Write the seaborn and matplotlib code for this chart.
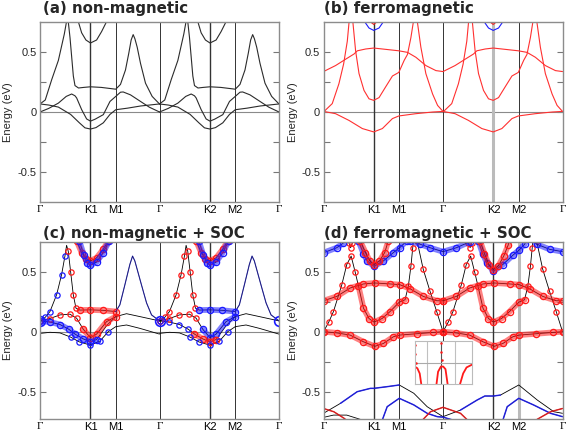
import matplotlib
matplotlib.use('Agg')
import matplotlib.pyplot as plt
import seaborn as sns

sns.set_theme(style='white')
plt.rcParams['font.family'] = ['Liberation Sans', 'DejaVu Sans']

# ---------------- path / axes data ----------------
K_POS = [0.0, 0.577, 0.866, 1.366, 1.943, 2.232, 2.732]
K_LABELS = ['Γ', 'K1', 'M1', 'Γ', 'K2', 'M2', 'Γ']
HALF = 1.366
Y_TICKS = [-0.5, 0.0, 0.5]
Y_TICK_LABELS = ['-0.5', '0', '0.5']
Y_MINOR = [-0.25, 0.25]
TITLES = ['(a) non-magnetic', '(b) ferromagnetic',
          '(c) non-magnetic + SOC', '(d) ferromagnetic + SOC']

# ---------------- (a) non-magnetic, half path Γ-K-M-Γ ----------------
A_STEEP_K = [0, 0.06, 0.134, 0.21, 0.278, 0.300, 0.312, 0.325, 0.343, 0.362, 0.381, 0.40, 0.44, 0.50, 0.577,
             0.70, 0.866, 0.92, 0.977, 1.015, 1.042, 1.065, 1.085, 1.111, 1.149, 1.206, 1.282, 1.366]
A_STEEP_E = [0.067, 0.10, 0.27, 0.43, 0.65, 0.74, 0.78, 0.74, 0.62, 0.46, 0.30, 0.22, 0.20, 0.205, 0.21,
             0.205, 0.19, 0.23, 0.35, 0.49, 0.60, 0.645, 0.61, 0.54, 0.405, 0.24, 0.13, 0.067]
A_POCKET_K = [0.42, 0.438, 0.476, 0.525, 0.577, 0.647, 0.704, 0.761, 0.78]
A_POCKET_E = [0.80, 0.753, 0.66, 0.60, 0.575, 0.60, 0.67, 0.753, 0.80]
A_B3_K = [0, 0.1, 0.21, 0.30, 0.362, 0.40, 0.419, 0.476, 0.533, 0.577, 0.63, 0.724, 0.80, 0.866, 0.92,
          0.951, 1.034, 1.149, 1.25, 1.366]
A_B3_E = [0.0, 0.03, 0.074, 0.13, 0.15, 0.135, 0.117, 0.02, -0.058, -0.076, -0.06, -0.022, 0.088, 0.13, 0.165,
          0.167, 0.143, 0.088, 0.04, 0.0]
A_B4_K = [0, 0.1, 0.21, 0.35, 0.45, 0.514, 0.577, 0.64, 0.724, 0.80, 0.866, 1.0, 1.15, 1.366]
A_B4_E = [0.067, 0.058, 0.041, -0.02, -0.09, -0.132, -0.142, -0.13, -0.09, -0.02, 0.019, 0.032, 0.05, 0.067]

# ---------------- (b) ferromagnetic, half path ----------------
B_B1_K = [0, 0.138, 0.291, 0.444, 0.574, 0.673, 0.788, 0.861, 1.056, 1.25, 1.366]
B_B1_E = [0.005, -0.014, -0.07, -0.138, -0.166, -0.138, -0.055, -0.033, -0.014, 0.0, 0.005]
B_B2_K = [0, 0.1, 0.176, 0.23, 0.272, 0.291, 0.30, 0.33, 0.337, 0.367, 0.406, 0.463, 0.52, 0.574, 0.635,
          0.711, 0.788, 0.861, 0.922, 0.960, 0.999, 1.025, 1.04, 1.05, 1.075, 1.113, 1.17, 1.247, 1.304, 1.366]
B_B2_E = [0.0, 0.07, 0.235, 0.40, 0.59, 0.74, 0.82, 0.82, 0.74, 0.51, 0.32, 0.18, 0.11, 0.097, 0.12,
          0.21, 0.30, 0.33, 0.43, 0.48, 0.62, 0.74, 0.82, 0.82, 0.74, 0.54, 0.32, 0.15, 0.055, 0.005]
B_B3_K = [0, 0.138, 0.253, 0.348, 0.387, 0.482, 0.574, 0.712, 0.861, 0.96, 1.056, 1.17, 1.285, 1.366]
B_B3_E = [0.337, 0.387, 0.44, 0.483, 0.51, 0.525, 0.533, 0.522, 0.51, 0.497, 0.456, 0.387, 0.345, 0.337]
B_BLUE_K = [0.463, 0.52, 0.574, 0.635, 0.692]
B_BLUE_E = [0.76, 0.70, 0.68, 0.70, 0.76]
B_RED_K = [0.52, 0.574, 0.627]
B_RED_E = [0.76, 0.73, 0.76]

# ---------------- (c) non-magnetic + SOC, half path ----------------
C_STEEP_K = [0, 0.06, 0.114, 0.19, 0.247, 0.285, 0.304, 0.323, 0.35, 0.38, 0.411, 0.457, 0.577, 0.72,
             0.866, 0.913, 0.97, 1.027, 1.058, 1.084, 1.16, 1.218, 1.275, 1.366]
C_STEEP_E = [0.09, 0.12, 0.168, 0.308, 0.476, 0.63, 0.72, 0.67, 0.50, 0.31, 0.196, 0.18, 0.182, 0.178,
             0.168, 0.224, 0.39, 0.56, 0.63, 0.59, 0.39, 0.24, 0.14, 0.09]
C_POCKR_K = [0.40, 0.419, 0.476, 0.525, 0.577, 0.647, 0.723, 0.78, 0.80]
C_POCKR_E = [0.80, 0.756, 0.66, 0.61, 0.59, 0.616, 0.686, 0.756, 0.80]
C_POCKB_K = [0.43, 0.45, 0.50, 0.54, 0.577, 0.647, 0.723, 0.79, 0.81]
C_POCKB_E = [0.80, 0.756, 0.64, 0.575, 0.555, 0.58, 0.66, 0.756, 0.80]
C_B3_K = [0, 0.114, 0.228, 0.342, 0.419, 0.495, 0.577, 0.647, 0.761, 0.866, 0.989, 1.141, 1.366]
C_B3_E = [0.09, 0.11, 0.14, 0.146, 0.112, 0.02, -0.05, -0.02, 0.084, 0.126, 0.15, 0.126, 0.09]
C_B3B_K = [0, 0.114, 0.228, 0.33, 0.40, 0.495, 0.577, 0.647, 0.761, 0.866]
C_B3B_E = [0.09, 0.08, 0.06, 0.02, -0.02, -0.06, -0.085, -0.065, 0.05, 0.126]
C_B4_K = [0, 0.114, 0.228, 0.35, 0.45, 0.577, 0.685, 0.78, 0.866, 0.989, 1.141, 1.366]
C_B4_E = [-0.014, -0.005, -0.01, -0.045, -0.085, -0.112, -0.078, 0.0, 0.042, 0.056, 0.028, -0.02]

# ---------------- (d) ferromagnetic + SOC ----------------
D_B1_K = [0, 0.15, 0.304, 0.457, 0.586, 0.685, 0.799, 0.871, 1.065, 1.256, 1.366]
D_B1_E = [0.0, -0.01, -0.028, -0.084, -0.122, -0.098, -0.042, -0.028, -0.017, -0.006, 0.0]
D_B2_K = [0, 0.152, 0.304, 0.457, 0.586, 0.761, 0.871, 0.989, 1.141, 1.294, 1.366]
D_B2_E = [0.258, 0.294, 0.364, 0.398, 0.406, 0.398, 0.392, 0.358, 0.294, 0.258, 0.258]
D_B4_K = [0, 0.06, 0.114, 0.209, 0.266, 0.316, 0.361, 0.40, 0.457, 0.52, 0.577, 0.67, 0.761, 0.866, 0.932,
          0.97, 1.0, 1.02, 1.035, 1.045, 1.07, 1.14, 1.218, 1.294, 1.366]
D_B4_E = [0.0, 0.08, 0.168, 0.39, 0.56, 0.63, 0.50, 0.38, 0.196, 0.11, 0.08, 0.11, 0.168, 0.246, 0.266,
          0.38, 0.55, 0.70, 0.82, 0.82, 0.756, 0.52, 0.336, 0.168, 0.0]
D_V_K = [0.27, 0.29, 0.31, 0.33, 0.35]
D_V_E = [0.80, 0.74, 0.70, 0.74, 0.80]
D_BTOP_K = [0, 0.152, 0.228, 0.28, 0.90, 0.989, 1.1, 1.218, 1.366, 1.52, 1.674, 1.75, 2.34, 2.435, 2.587, 2.732]
D_BTOP_E = [0.658, 0.70, 0.74, 0.82, 0.82, 0.756, 0.73, 0.70, 0.667, 0.70, 0.75, 0.82, 0.82, 0.73, 0.686, 0.667]
D_PB1_K = [0.38, 0.40, 0.457, 0.50, 0.577, 0.685, 0.80, 0.871, 0.951, 0.98]
D_PB1_E = [0.80, 0.756, 0.65, 0.59, 0.545, 0.59, 0.66, 0.70, 0.756, 0.80]
D_PR1_K = [0.40, 0.42, 0.48, 0.53, 0.577, 0.64, 0.70, 0.74, 0.76]
D_PR1_E = [0.80, 0.756, 0.66, 0.59, 0.56, 0.59, 0.66, 0.756, 0.80]
D_PB2_K = [1.75, 1.77, 1.82, 1.87, 1.943, 2.05, 2.169, 2.232, 2.30, 2.34]
D_PB2_E = [0.80, 0.756, 0.65, 0.57, 0.504, 0.56, 0.64, 0.678, 0.73, 0.80]
D_PR2_K = [1.77, 1.79, 1.84, 1.89, 1.943, 2.00, 2.06, 2.11, 2.14]
D_PR2_E = [0.80, 0.756, 0.65, 0.56, 0.518, 0.55, 0.63, 0.72, 0.80]
D_L1_K = [0, 0.194, 0.385, 0.537, 0.577, 0.728, 0.866, 1.032, 1.185, 1.366, 1.566, 1.757, 1.844, 1.943,
          2.023, 2.232, 2.443, 2.633, 2.732]
D_L1_E = [-0.68, -0.597, -0.50, -0.472, -0.472, -0.458, -0.444, -0.513, -0.625, -0.708, -0.653, -0.569,
          -0.536, -0.536, -0.528, -0.444, -0.569, -0.667, -0.68]
D_L2_K = [0.66, 0.728, 0.866, 1.032, 1.185, 1.30, 1.366, 1.45, 1.60, 2.04, 2.10, 2.232, 2.40, 2.595, 2.732]
D_L2_E = [-0.76, -0.625, -0.555, -0.61, -0.68, -0.708, -0.712, -0.73, -0.76, -0.76, -0.625, -0.555, -0.61,
          -0.68, -0.708]
D_L3_K = [0, 0.118, 0.232, 0.30, 1.10, 1.223, 1.366, 1.566, 1.68, 2.40, 2.443, 2.595, 2.732]
D_L3_E = [-0.64, -0.667, -0.72, -0.76, -0.76, -0.667, -0.63, -0.68, -0.76, -0.76, -0.73, -0.667, -0.64]
D_L4_K = [0, 0.114, 0.266, 0.44, 0.50]
D_L4_E = [-0.714, -0.695, -0.695, -0.735, -0.76]

# inset of (d)
INSET_VLINES = [0.224, 0.47, 0.706]
INSET_LEFT_X = [0.0, 0.047, 0.088, 0.118]
INSET_LEFT_Y = [0.41, 0.37, 0.25, -0.02]
INSET_HUMP_X = [0.38, 0.41, 0.46, 0.50, 0.54, 0.58]
INSET_HUMP_Y = [-0.02, 0.29, 0.41, 0.41, 0.35, -0.02]
INSET_RIGHT_X = [0.79, 0.85, 0.91, 1.0]
INSET_RIGHT_Y = [-0.02, 0.25, 0.39, 0.45]
INSET_T1_X = [0.005, 0.012, 0.02]
INSET_T1_Y = [0.9, 0.7, 0.5]
INSET_T2_X = [0.462, 0.47, 0.478]
INSET_T2_Y = [0.95, 0.75, 0.55]

RED = '#ff1a1a'
BLUE = '#1a1aff'


def shift(k, d):
    return [x + d for x in k]


def line(ax, k, e, color='black', lw=0.7, **kw):
    sns.lineplot(x=k, y=e, sort=False, estimator=None, color=color, lw=lw, ax=ax, legend=False, **kw)


def sel(k, e, lo, hi):
    pts = [(a, b) for a, b in zip(k, e) if lo - 1e-6 <= a <= hi + 1e-6]
    return [p[0] for p in pts], [p[1] for p in pts]


def mark(ax, k, e, lo, hi, color, kind):
    kk, ee = sel(k, e, lo, hi)
    if len(kk) == 0:
        return
    if kind == 'trail':
        line(ax, kk, ee, color=color, lw=4.2, alpha=0.55)
        line(ax, kk, ee, color=color, lw=0, marker='o', markersize=4.5,
             markerfacecolor='none', markeredgecolor=color, markeredgewidth=0.9)
    elif kind == 'dots':
        line(ax, kk, ee, color=color, lw=0, marker='o', markersize=3.8,
             markerfacecolor='none', markeredgecolor=color, markeredgewidth=0.9)
    elif kind == 'low':
        line(ax, kk, ee, color=color, lw=1.1, alpha=0.8)
    else:
        line(ax, kk, ee, color=color, lw=0.9, alpha=0.45)


fig = plt.figure(figsize=(5.67, 4.34), dpi=100)
W = 239 / 567
pos = [[40 / 567, 232 / 434, W, 180 / 434], [323.5 / 567, 232 / 434, W, 180 / 434],
       [40 / 567, 15 / 434, W, 177.3 / 434], [323.5 / 567, 15 / 434, W, 177.3 / 434]]
axes = [fig.add_axes(p) for p in pos]
ylims = [(-0.75, 0.75), (-0.75, 0.75), (-0.7275, 0.75), (-0.7275, 0.75)]
title_dx = [2.7, 0.2, 2.7, 0.2]
title_gap = [8.5, 8.5, 4.0, 4.0]
ylabel_x = [-0.115, -0.105, -0.115, -0.105]

for i, ax in enumerate(axes):
    ax.set_xlim(0, 2.732)
    ax.set_ylim(*ylims[i])
    ax.set_facecolor('white')
    for s in ax.spines.values():
        s.set_color('#8c8c8c')
        s.set_linewidth(1.0)
    ax.set_xticks(K_POS)
    ax.set_xticklabels(K_LABELS, fontsize=8)
    for t in ax.get_xticklabels():
        if t.get_text() == 'Γ':
            t.set_fontfamily('Liberation Serif')
    ax.tick_params(axis='x', length=0, pad=2.5, colors='black')
    ax.set_yticks(Y_TICKS)
    ax.set_yticklabels(Y_TICK_LABELS, fontsize=8)
    ax.set_yticks(Y_MINOR, minor=True)
    ax.tick_params(axis='y', which='both', direction='in', left=True, right=True, length=4,
                   width=0.8, color='#777777', pad=2.5)
    ax.set_ylabel('Energy (eV)', fontsize=8)
    ax.yaxis.set_label_coords(ylabel_x[i], 0.5)
    ax.axhline(0, color='#8a8a8a', lw=0.8, zorder=1)
    for j, kp in enumerate(K_POS[1:-1]):
        c, lw_ = '#333333', (1.0 if j in (0, 3) else 0.7)
        if i == 1 and j == 3:
            c, lw_ = '#bbbbbb', 2.2
        if i == 3 and j == 4:
            c, lw_ = '#bbbbbb', 2.2
        ax.axvline(kp, color=c, lw=lw_, zorder=1)
    hpx = 180 if i < 2 else 177.3
    ax.text(title_dx[i] / 239, 1 + title_gap[i] / hpx, TITLES[i], transform=ax.transAxes,
            fontsize=10.8, fontweight='bold', family='DejaVu Sans', ha='left', va='baseline')

# ---- (a)
ax = axes[0]
for d in (0, HALF):
    for K, E in [(A_STEEP_K, A_STEEP_E), (A_POCKET_K, A_POCKET_E), (A_B3_K, A_B3_E), (A_B4_K, A_B4_E)]:
        line(ax, shift(K, d), E, color='#2b2b2b', lw=0.8)

# ---- (b)
ax = axes[1]
for d in (0, HALF):
    for K, E in [(B_B1_K, B_B1_E), (B_B2_K, B_B2_E), (B_B3_K, B_B3_E)]:
        line(ax, shift(K, d), E, color='#ff3030', lw=0.8)
    line(ax, shift(B_BLUE_K, d), B_BLUE_E, color=BLUE, lw=0.8)
    line(ax, shift(B_RED_K, d), B_RED_E, color=RED, lw=0.8)

# ---- (c)
ax = axes[2]
C_BANDS = {'steep': (C_STEEP_K, C_STEEP_E), 'pr': (C_POCKR_K, C_POCKR_E), 'pb': (C_POCKB_K, C_POCKB_E),
           'b3': (C_B3_K, C_B3_E), 'b3b': (C_B3B_K, C_B3B_E), 'b4': (C_B4_K, C_B4_E)}
for d in (0, HALF):
    for K, E in C_BANDS.values():
        line(ax, shift(K, d), E, color='black', lw=0.6)
C_MARKS = [
    (0, 'steep', 0.0, 0.30, BLUE, 'dots'), (0, 'steep', 0.31, 0.42, RED, 'dots'),
    (0, 'steep', 0.42, 0.866, RED, 'trail'), (0, 'steep', 0.866, 1.366, BLUE, 'thin'),
    (0, 'pr', 0.40, 0.80, RED, 'trail'), (0, 'pb', 0.43, 0.81, BLUE, 'trail'),
    (0, 'b3', 0.0, 0.42, RED, 'dots'), (0, 'b3', 0.45, 0.866, RED, 'trail'),
    (0, 'b3b', 0.0, 0.70, BLUE, 'trail'), (0, 'b4', 0.35, 0.78, BLUE, 'dots'),
    (1, 'steep', 0.0, 0.30, RED, 'dots'), (1, 'steep', 0.31, 0.42, RED, 'dots'),
    (1, 'steep', 0.42, 0.866, BLUE, 'trail'), (1, 'steep', 0.866, 1.366, BLUE, 'thin'),
    (1, 'pr', 0.40, 0.80, RED, 'trail'), (1, 'pb', 0.43, 0.81, BLUE, 'trail'),
    (1, 'b3', 0.0, 0.42, RED, 'dots'), (1, 'b3', 0.45, 0.866, BLUE, 'trail'),
    (1, 'b3b', 0.35, 0.70, RED, 'trail'), (1, 'b3b', 0.0, 0.33, BLUE, 'dots'),
    (1, 'b4', 0.35, 0.78, BLUE, 'dots'),
]
for h, name, lo, hi, col, kind in C_MARKS:
    K, E = C_BANDS[name]
    mark(ax, shift(K, h * HALF), E, lo + h * HALF, hi + h * HALF, col, kind)
line(ax, [K_POS[0], K_POS[3], K_POS[6]], [0.09, 0.09, 0.09], color=BLUE, lw=0, marker='o',
     markersize=7, markerfacecolor='none', markeredgecolor=BLUE, markeredgewidth=1.2)

# ---- (d)
ax = axes[3]
for d in (0, HALF):
    for K, E in [(D_B1_K, D_B1_E), (D_B2_K, D_B2_E), (D_B4_K, D_B4_E), (D_V_K, D_V_E)]:
        line(ax, shift(K, d), E, color='black', lw=0.6)
    mark(ax, shift(D_B1_K, d), D_B1_E, d, d + HALF, RED, 'trail')
    mark(ax, shift(D_B2_K, d), D_B2_E, d, d + HALF, RED, 'trail')
    mark(ax, shift(D_B4_K, d), D_B4_E, d + 0.40, d + 0.95, RED, 'trail')
    mark(ax, shift(D_B4_K, d), D_B4_E, d, d + 0.39, RED, 'dots')
    mark(ax, shift(D_B4_K, d), D_B4_E, d + 0.96, d + HALF, RED, 'dots')
    mark(ax, shift(D_V_K, d), D_V_E, d, d + HALF, RED, 'dots')
for K, E, col in [(D_PB1_K, D_PB1_E, BLUE), (D_PR1_K, D_PR1_E, RED), (D_PB2_K, D_PB2_E, BLUE),
                  (D_PR2_K, D_PR2_E, RED), (D_BTOP_K, D_BTOP_E, BLUE)]:
    line(ax, K, E, color='black', lw=0.6)
    mark(ax, K, E, 0, 2.732, col, 'trail')
for K, E in [(D_L1_K, D_L1_E), (D_L2_K, D_L2_E), (D_L3_K, D_L3_E), (D_L4_K, D_L4_E)]:
    line(ax, K, E, color='black', lw=0.6)
mark(ax, D_L1_K, D_L1_E, 0.15, 0.866, BLUE, 'low')
mark(ax, D_L1_K, D_L1_E, 1.5, 2.03, BLUE, 'low')
mark(ax, D_L2_K, D_L2_E, 0, 2.732, BLUE, 'low')
mark(ax, D_L3_K, D_L3_E, 0, 2.732, RED, 'low')

# inset
axi = fig.add_axes([414.7 / 567, 49.7 / 434, 57 / 567, 43.3 / 434])
axi.set_xlim(0, 1)
axi.set_ylim(0, 1)
axi.set_xticks([])
axi.set_yticks([])
axi.set_facecolor('white')
for s in axi.spines.values():
    s.set_color('#bbbbbb')
    s.set_linewidth(0.8)
for j, xv in enumerate(INSET_VLINES):
    axi.axvline(xv, color='#555555' if j == 1 else '#c0c0c0', lw=0.8)
axi.axhline(0.485, color='#aaaaaa', lw=0.8)
for X, Y in [(INSET_LEFT_X, INSET_LEFT_Y), (INSET_HUMP_X, INSET_HUMP_Y), (INSET_RIGHT_X, INSET_RIGHT_Y)]:
    line(axi, X, Y, color=RED, lw=1.3)
for X, Y in [(INSET_T1_X, INSET_T1_Y), (INSET_T2_X, INSET_T2_Y)]:
    line(axi, X, Y, color=RED, lw=0, marker='o', markersize=1.8, markerfacecolor=RED, markeredgewidth=0)

fig.savefig('out.png', dpi=100)
